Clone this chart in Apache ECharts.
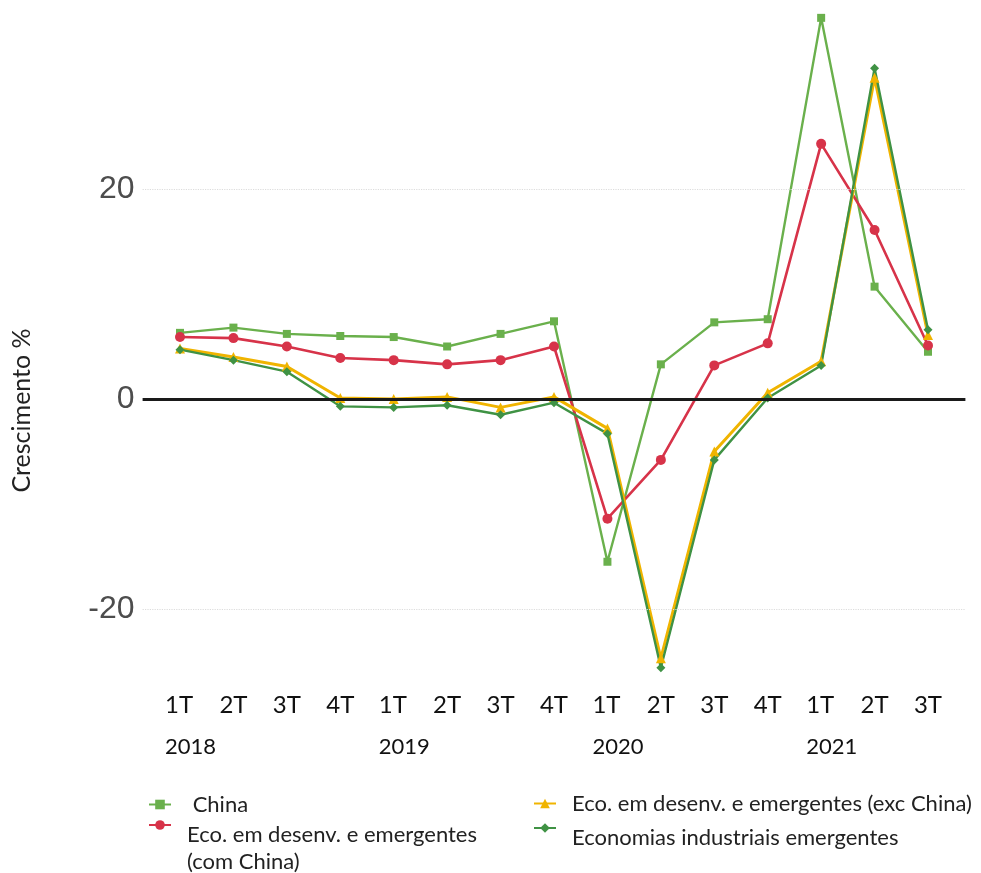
<!DOCTYPE html>
<html>
<head>
<meta charset="utf-8">
<script src="https://cdn.jsdelivr.net/npm/echarts@6/dist/echarts.min.js"></script>
<style>
html,body{margin:0;padding:0;background:#fff;}
#chart{width:981px;height:873px;}
</style>
</head>
<body>
<div id="chart"></div>
<script>
// Categories (quarters) and year labels
const quarters = ['1T','2T','3T','4T','1T','2T','3T','4T','1T','2T','3T','4T','1T','2T','3T'];
const years    = ['2018','','','','2019','','','','2020','','','','2021','',''];

// Series values (growth %)
const china        = [6.3, 6.8, 6.2, 6.0, 5.9, 5.0, 6.2, 7.4, -15.5, 3.3, 7.3, 7.6, 36.3, 10.7, 4.5];
const ecoComChina  = [5.9, 5.8, 5.0, 3.9, 3.7, 3.3, 3.7, 5.0, -11.4, -5.8, 3.2, 5.3, 24.3, 16.1, 5.1];
const ecoExcChina  = [4.8, 4.0, 3.1, 0.1, 0.0, 0.2, -0.8, 0.2, -2.8, -24.7, -5.0, 0.6, 3.6, 30.6, 6.1];
const industriais  = [4.7, 3.7, 2.6, -0.7, -0.8, -0.6, -1.5, -0.35, -3.3, -25.6, -5.8, 0.1, 3.2, 31.5, 6.6];

const yTicks = [-20, 0, 20];

const names = ['China', 'Eco. em desenv. e emergentes (com China)', 'Eco. em desenv. e emergentes (exc China)', 'Economias industriais emergentes'];

function pairs(arr){ return arr.map((v,i)=>[i,v]); }

const font = 'Lato, "Open Sans", sans-serif';

const chart = echarts.init(document.getElementById('chart'));

function legend(name, left, top, fmt){
  return {
    data: [name], left: left, top: top, orient: 'vertical',
    itemWidth: 22, itemHeight: 12, itemGap: 0, padding: 0,
    textStyle: { fontFamily: font, fontSize: 22, color: '#222', lineHeight: 27, padding: [0, 0, 0, 11],
      rich: { s: { fontSize: 10, lineHeight: 47 }, s2: { fontSize: 10, lineHeight: 20 }, t: { fontFamily: font, fontSize: 22, color: '#222', lineHeight: 27 } } },
    formatter: fmt
  };
}

const option = {
  backgroundColor: '#fff',
  animation: false,
  grid: { left: 142.6, right: 15.6, top: 0, bottom: 180, containLabel: false },
  legend: [
    legend(names[0], 148, 791, n => ' China'),
    legend(names[1], 148, 774.5, n => '{s| }\n{t|Eco. em desenv. e emergentes}\n{t|(com China)}'),
    legend(names[2], 533, 790, n => n),
    legend(names[3], 533, 804.5, n => '{s2| }\n{t|Economias industriais emergentes}')
  ],
  xAxis: {
    type: 'value', min: -0.7, max: 14.7,
    axisLine: { show: false, onZero: false },
    axisTick: { show: false },
    splitLine: { show: false },
    axisLabel: {
      customValues: quarters.map((q,i)=>i),
      showMinLabel: true, showMaxLabel: true, hideOverlap: false,
      margin: 0,
      fontFamily: font, fontSize: 24, color: '#111',
      formatter: function(v){
        const i = Math.round(v);
        return years[i] ? '{a|' + quarters[i] + '}\n{b|' + years[i] + '}' : '{c|' + quarters[i] + '}';
      },
      rich: {
        a: { width: 30, align: 'left', lineHeight: 24, fontFamily: font, fontSize: 24, color: '#111' },
        b: { width: 30, align: 'left', lineHeight: 60, fontFamily: font, fontSize: 22, color: '#111' },
        c: { lineHeight: 24, fontFamily: font, fontSize: 24, color: '#111' }
      }
    }
  },
  yAxis: {
    type: 'value', min: -28, max: 38,
    name: 'Crescimento %', nameLocation: 'middle', nameGap: 108,
    nameTextStyle: { fontFamily: font, fontSize: 25, color: '#222', padding: [0, 128, 0, 0] },
    axisLine: { show: false },
    axisTick: { show: false },
    splitLine: { show: false },
    axisLabel: { customValues: yTicks, margin: 8, fontFamily: '"Liberation Sans", Arial, sans-serif', fontSize: 32, color: '#4d4d4d' }
  },
  series: [
    {
      name: names[0], type: 'line', data: pairs(china),
      symbol: 'rect', symbolSize: 8,
      lineStyle: { color: '#6ab04c', width: 2.4 }, itemStyle: { color: '#6ab04c' },
      markLine: {
        silent: true, symbol: ['none','none'], label: { show: false },
        data: [
          { yAxis: 20, lineStyle: { color: '#dcdcdc', width: 1.2, type: 'dotted' } },
          { yAxis: -20, lineStyle: { color: '#dcdcdc', width: 1.2, type: 'dotted' } },
          { yAxis: 0, lineStyle: { color: '#1a1a1a', width: 3.2, type: 'solid' } }
        ]
      }
    },
    {
      name: names[1], type: 'line', data: pairs(ecoComChina),
      symbol: 'circle', symbolSize: 10,
      lineStyle: { color: '#d73349', width: 2.6 }, itemStyle: { color: '#d73349' }
    },
    {
      name: names[2], type: 'line', data: pairs(ecoExcChina),
      symbol: 'triangle', symbolSize: 10,
      lineStyle: { color: '#f0b400', width: 3 }, itemStyle: { color: '#f0b400' }
    },
    {
      name: names[3], type: 'line', data: pairs(industriais),
      symbol: 'diamond', symbolSize: 9,
      lineStyle: { color: '#3f9244', width: 2.4 }, itemStyle: { color: '#3f9244' }
    }
  ]
};
chart.setOption(option);
</script>
</body>
</html>
